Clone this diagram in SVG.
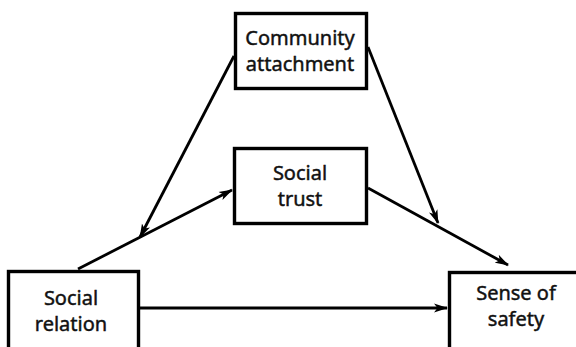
<svg xmlns="http://www.w3.org/2000/svg" width="576" height="347" viewBox="0 0 576 347">
<style>
.box{fill:#fff;stroke:#000;stroke-width:3.4}
.lbl{font-family:"Noto Sans","Open Sans",sans-serif;font-size:20px;fill:#111;stroke:#111;stroke-width:0.45;text-anchor:middle}
.con{stroke:#000;stroke-width:2.8;fill:none;marker-end:url(#ah)}
</style>
<defs>
<marker id="ah" viewBox="0 0 14 10" refX="13" refY="5" markerWidth="14" markerHeight="10" markerUnits="userSpaceOnUse" orient="auto">
<path d="M0,0.5 L14,5 L0,9.5 L3.5,5 Z" fill="#000"/>
</marker>
</defs>
<rect width="576" height="347" fill="#fff"/>
<g id="connectors">
<line class="con" x1="140" y1="308" x2="447" y2="308"/>
<line class="con" x1="78" y1="269" x2="232" y2="190"/>
<line class="con" x1="234" y1="56" x2="140" y2="237"/>
<line class="con" x1="368" y1="47" x2="438" y2="223"/>
<line class="con" x1="368" y1="188" x2="508" y2="265"/>
</g>
<g id="community">
<rect class="box" x="235.5" y="13.5" width="131" height="75"/>
<text class="lbl" x="300" y="45">Community</text>
<text class="lbl" x="300" y="71">attachment</text>
</g>
<g id="trust">
<rect class="box" x="234.5" y="148.5" width="132" height="75"/>
<text class="lbl" x="300" y="180">Social</text>
<text class="lbl" x="300" y="206">trust</text>
</g>
<g id="relation">
<rect class="box" x="8.5" y="271.5" width="130" height="90"/>
<text class="lbl" x="71" y="305">Social</text>
<text class="lbl" x="71" y="331">relation</text>
</g>
<g id="safety">
<rect class="box" x="449.5" y="272.5" width="140" height="90"/>
<text class="lbl" x="516" y="300">Sense of</text>
<text class="lbl" x="516" y="326">safety</text>
</g>
</svg>
